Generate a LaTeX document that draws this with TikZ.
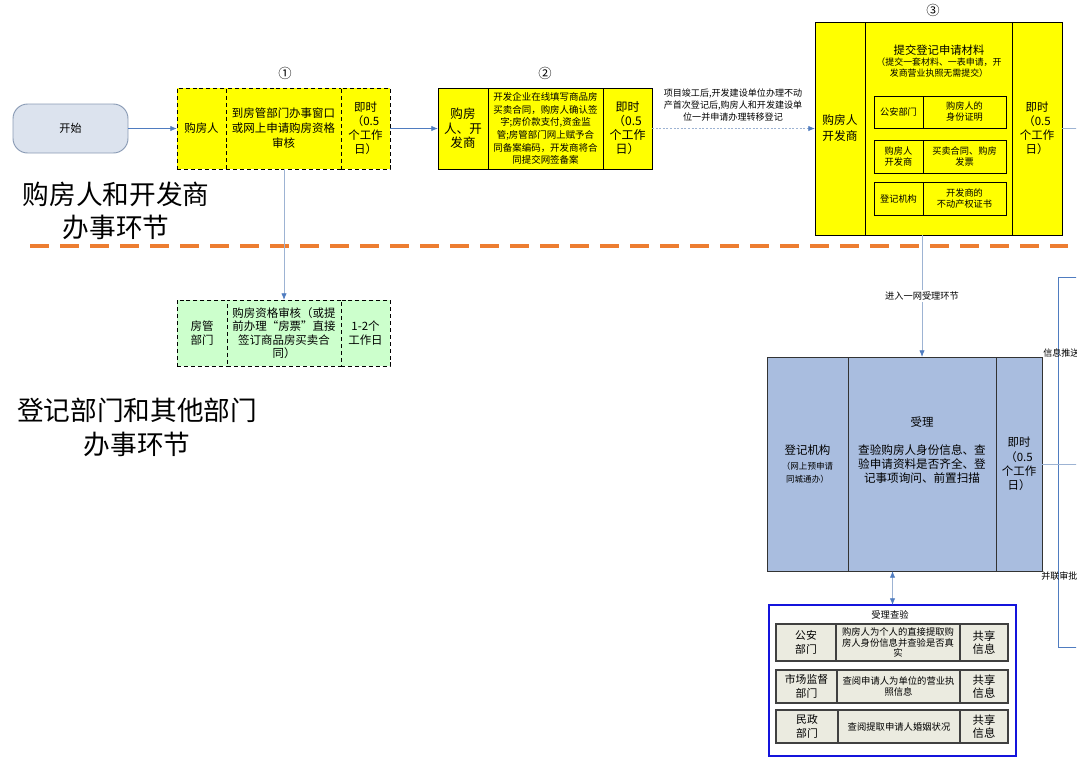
\documentclass[tikz,border=0pt]{standalone}
\usepackage{fontspec}
\setmainfont{Noto Sans CJK SC}
\usetikzlibrary{arrows.meta}
\definecolor{byellow}{HTML}{FFFF00}
\definecolor{bgreen}{HTML}{CCFFCC}
\definecolor{bblue}{HTML}{A9BDDF}
\definecolor{startfill}{HTML}{DCE3EE}
\definecolor{startdraw}{HTML}{8A9BB5}
\definecolor{arr}{HTML}{4F7CC0}
\definecolor{lightln}{HTML}{9DB3D3}
\definecolor{orangeln}{HTML}{ED7D31}
\definecolor{rowfill}{HTML}{EBEBE0}
\definecolor{rowdraw}{HTML}{404040}
\definecolor{frameblue}{HTML}{1414DC}
\newcommand\fsz[2]{\fontsize{#1}{#2}\selectfont}
\newcommand\smallsub{\fsz{6.4pt}{7.6pt}}
\begin{document}
\begin{tikzpicture}[x=0.75pt,y=-0.75pt,
  bw/.style={minimum width=#1*0.75pt},
  bh/.style={minimum height=#1*0.75pt},
  cell/.style={draw, inner sep=0pt, outer sep=0pt, anchor=north west, align=center, line width=0.75pt},
  ycell/.style={cell, fill=byellow},
  dcell/.style={dash pattern=on 3pt off 2.2pt},
  gcell/.style={cell, fill=bgreen, dcell},
  ucell/.style={cell, fill=bblue, draw=black!80},
  rcell/.style={cell, fill=rowfill, draw=rowdraw, line width=1.1pt},
  txt/.style={inner sep=0pt, align=center},
  conn/.style={draw=arr, line width=0.6pt, -{Latex[length=5pt,width=4pt]}},
  lightline/.style={draw=lightln, line width=0.6pt},
  bigl/.style={txt, font=\fsz{20pt}{24.5pt}},
  numlbl/.style={txt, font=\fsz{10pt}{11pt}},
  startnode/.style={draw=startdraw, fill=startfill, rounded corners=11pt, line width=0.7pt, inner sep=0pt, font=\fsz{8.3pt}{10pt}},
]
\useasboundingbox (0,0) rectangle (1087,758);
\begin{scope}
\clip (0,0) rectangle (1076,758);

% start
\node[startnode, bw=115, bh=49] (start) at (70.5,128.5) {开始};

% box 1
\node[ycell, dcell, bw=49, bh=81, font=\fsz{8.6pt}{10.5pt}] (b1a) at (177,88) {购房人};
\node[ycell, dcell, bw=115, bh=81, font=\fsz{8.6pt}{11.25pt}] (b1b) at (226,88) {到房管部门办事窗口\\或网上申请购房资格\\审核};
\node[ycell, dcell, bw=49, bh=81, font=\fsz{8.6pt}{10.5pt}] (b1c) at (341,88) {即时\\（0.5\\个工作\\日）};
\node[numlbl] (n1) at (285,73) {①};

% box 2
\node[ycell, bw=50, bh=81, font=\fsz{9.4pt}{10.9pt}] (b2a) at (438,88) {购房\\人、开\\发商};
\node[ycell, bw=115, bh=81, font=\fsz{7.1pt}{9.5pt}] (b2b) at (488,88) {开发企业在线填写商品房\\买卖合同，购房人确认签\\字;房价款支付,资金监\\管;房管部门网上赋予合\\同备案编码，开发商将合\\同提交网签备案};
\node[ycell, bw=49, bh=81, font=\fsz{9pt}{10.5pt}] (b2c) at (603,88) {即时\\（0.5\\个工作\\日）};
\node[numlbl] (n2) at (545,73) {②};

% label between box 2 and 3
\node[txt, font=\fsz{6.8pt}{9pt}] (lbl) at (733,105) {项目竣工后,开发建设单位办理不动\\产首次登记后,购房人和开发建设单\\位一并申请办理转移登记};

% box 3
\node[ycell, bw=50, bh=213, font=\fsz{8.8pt}{12pt}] (b3a) at (815,22) {购房人\\开发商};
\node[ycell, bw=147, bh=213] (b3b) at (865,22) {};
\node[ycell, bw=50, bh=213, font=\fsz{8.6pt}{10.5pt}] (b3c) at (1012,22) {即时\\（0.5\\个工作\\日）};
\node[numlbl] (n3) at (933,10) {③};
\node[txt, font=\fsz{8.5pt}{10pt}] (b3t) at (939,50) {提交登记申请材料};
\node[txt, font=\fsz{6.7pt}{8.25pt}] (b3s) at (939,68) {（提交一套材料、一表申请，开\\发商营业执照无需提交）};
\node[ycell, bw=49, bh=32, font=\fsz{6.9pt}{8.25pt}] (r1a) at (874,96) {公安部门};
\node[ycell, bw=83, bh=32, font=\fsz{6.9pt}{8.25pt}] (r1b) at (923,96) {购房人的\\身份证明};
\node[ycell, bw=49, bh=33, font=\fsz{6.9pt}{8.25pt}] (r2a) at (874,140) {购房人\\开发商};
\node[ycell, bw=83, bh=33, font=\fsz{6.9pt}{8.25pt}] (r2b) at (923,140) {买卖合同、购房\\发票};
\node[ycell, bw=49, bh=33, font=\fsz{6.9pt}{8.25pt}] (r3a) at (874,182) {登记机构};
\node[ycell, bw=83, bh=33, font=\fsz{6.9pt}{8.25pt}] (r3b) at (923,182) {开发商的\\不动产权证书};

% section labels
\node[bigl] (sec1) at (116,211) {购房人和开发商\\办事环节};
\node[bigl, font=\fsz{20pt}{25.5pt}] (sec2) at (137,427) {登记部门和其他部门\\办事环节};

% orange separator
\coordinate (sepL) at (30,246);
\coordinate (sepR) at (1068,246);
\draw[orangeln, line width=2.6pt, dash pattern=on 14pt off 8.5pt] (sepL) -- (sepR);

% box 4 (green)
\node[gcell, bw=50, bh=66, font=\fsz{8.6pt}{10pt}] (g1) at (177,300) {房管\\部门};
\node[gcell, bw=114, bh=66, font=\fsz{8.6pt}{10pt}] (g2) at (227,300) {购房资格审核（或提\\前办理“房票”直接\\签订商品房买卖合\\同）};
\node[gcell, bw=49, bh=66, font=\fsz{8.6pt}{10.5pt}] (g3) at (341,300) {1-2个\\工作日};

% box 5 (blue)
\node[ucell, bw=81, bh=214, font=\fsz{8.6pt}{10pt}] (u1) at (767,357) {登记机构\\[1pt]\smallsub（网上预申请\\\smallsub 同城通办）};
\node[ucell, bw=148, bh=214] (u2) at (848,357) {};
\node[ucell, bw=46, bh=214, font=\fsz{8.6pt}{10.7pt}] (u3) at (996,357) {即时\\（0.5\\个工作\\日）};
\node[txt, font=\fsz{8.6pt}{10pt}] (u2t) at (922,422) {受理};
\node[txt, font=\fsz{8.7pt}{10.4pt}] (u2b) at (922,464) {查验购房人身份信息、查\\验申请资料是否齐全、登\\记事项询问、前置扫描};

% box 6 (frame)
\node[cell, draw=frameblue, line width=2.2pt, fill=white, bw=247, bh=151] (frame) at (769,605) {};
\node[txt, font=\fsz{7pt}{8pt}] (ft) at (890,615) {受理查验};
\node[rcell, bw=60, bh=37, font=\fsz{8.1pt}{11pt}] (k1a) at (776,624) {公安\\部门};
\node[rcell, bw=124, bh=37, font=\fsz{7pt}{7.6pt}] (k1b) at (836,624) {购房人为个人的直接提取购\\房人身份信息并查验是否真\\实};
\node[rcell, bw=48, bh=37, font=\fsz{8.5pt}{9.5pt}] (k1c) at (960,624) {共享\\信息};
\node[rcell, bw=61, bh=33, font=\fsz{8.1pt}{11pt}] (k2a) at (776,670) {市场监督\\部门};
\node[rcell, bw=123, bh=33, font=\fsz{7pt}{8pt}] (k2b) at (837,670) {查阅申请人为单位的营业执\\照信息};
\node[rcell, bw=48, bh=33, font=\fsz{8.5pt}{9.5pt}] (k2c) at (960,670) {共享\\信息};
\node[rcell, bw=62, bh=33, font=\fsz{8.1pt}{11pt}] (k3a) at (776,710) {民政\\部门};
\node[rcell, bw=122, bh=33, font=\fsz{7pt}{8pt}] (k3b) at (838,710) {查阅提取申请人婚姻状况};
\node[rcell, bw=48, bh=33, font=\fsz{8.5pt}{9.5pt}] (k3c) at (960,710) {共享\\信息};

% connectors
\draw[conn] (start) -- (b1a);
\draw[conn] (b1c) -- (b2a);
\draw[conn, draw=lightln, dash pattern=on 1.5pt off 1.2pt, -{Latex[length=5pt,width=4pt,fill=arr,color=arr]}] (b2c) -- (b3a);
\coordinate (rend) at (1080,128.5);
\draw[lightline] (b3c) -- (rend);
\draw[conn, draw=lightln, -{Latex[length=5pt,width=4pt,fill=arr,color=arr]}] (b1b.south -| g2.north) -- (g2.north);
\draw[conn, draw=lightln, -{Latex[length=5pt,width=4pt,fill=arr,color=arr]}] (u2.north |- b3b.south) -- (u2.north);
\node[txt, fill=white, inner sep=1pt, font=\fsz{6.9pt}{8pt}] (lbl2) at (922,296) {进入一网受理环节};
\draw[conn, draw=lightln, {Latex[length=5pt,width=4pt,fill=arr,color=arr]}-{Latex[length=5pt,width=4pt,fill=arr,color=arr]}] (frame.north |- u2.south) -- (frame.north);

% right bracket
\coordinate (bt) at (1058,277);
\coordinate (bb) at (1058,647);
\coordinate (btR) at (1080,277);
\coordinate (bbR) at (1080,647);
\coordinate (bm) at (1080,464);
\draw[draw=arr, line width=0.6pt] (btR) -- (bt) -- (bb) -- (bbR);
\draw[lightline] (u3) -- (bm);
\node[txt, anchor=west, font=\fsz{6.8pt}{8pt}] (push) at (1043,353) {信息推送};
\node[txt, anchor=west, font=\fsz{6.8pt}{8pt}] (para) at (1041,576) {并联审批};
\end{scope}
\end{tikzpicture}
\end{document}
